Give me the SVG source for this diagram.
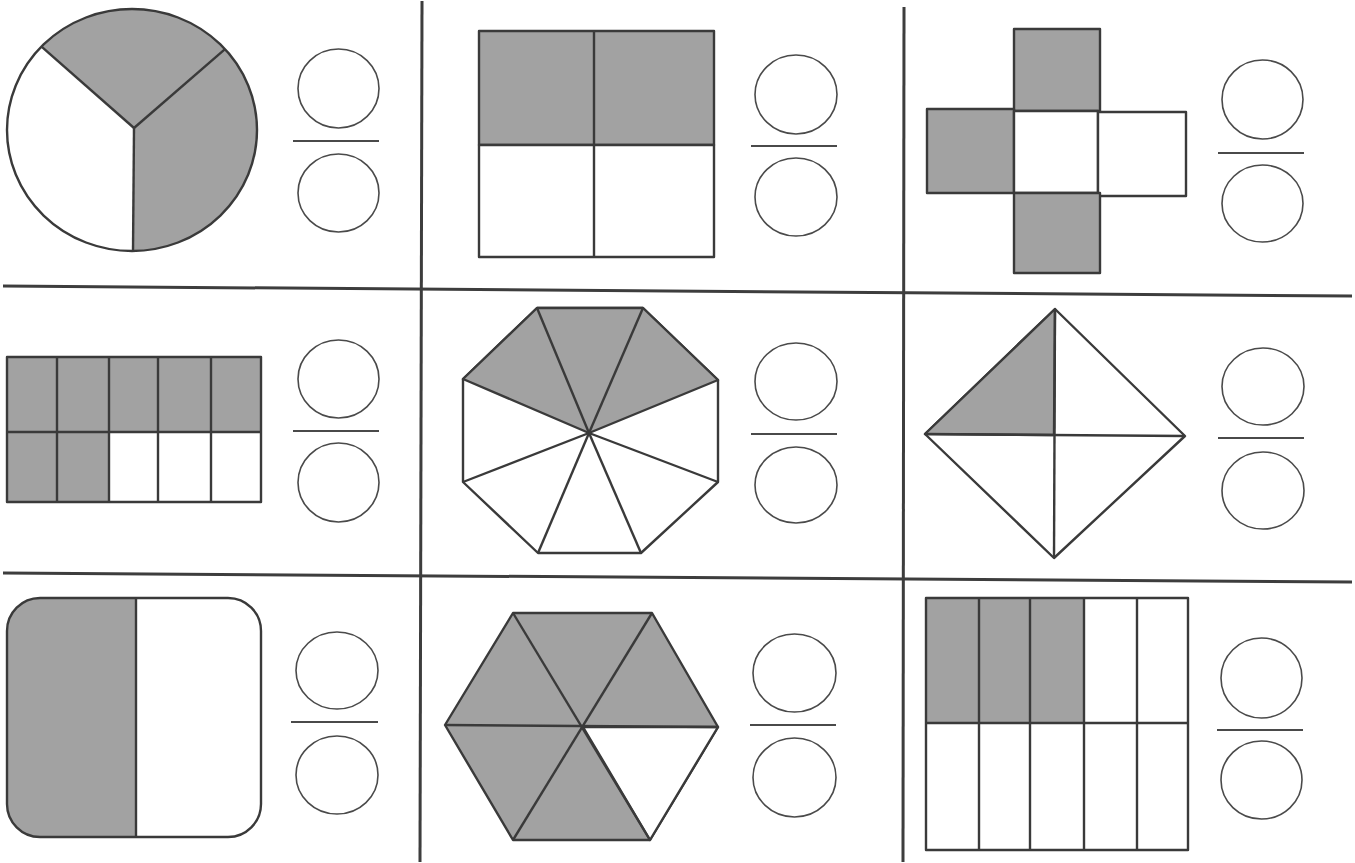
<svg xmlns="http://www.w3.org/2000/svg" width="1355" height="863" viewBox="0 0 1355 863">
<style>
.g{fill:#a2a2a2}
.w{fill:#fff}
.s{stroke:#3a3a3a;stroke-width:2.4;stroke-linejoin:round}
.grid{stroke:#3d3d3d;stroke-width:3;fill:none}
.fc{fill:none;stroke:#4a4a4a;stroke-width:1.6}
.fl{stroke:#4a4a4a;stroke-width:2}
</style>
<rect width="1355" height="863" fill="#fff"/>
<g id="grid">
<line class="grid" x1="422" y1="1" x2="420" y2="862"/>
<line class="grid" x1="904" y1="7" x2="903" y2="862"/>
<line class="grid" x1="3" y1="286" x2="1352" y2="296"/>
<line class="grid" x1="3" y1="573" x2="1352" y2="582"/>
</g>
<g id="cell1">
<ellipse cx="132" cy="130" rx="125" ry="121" class="w"/>
<path d="M134,128 L41.5,46.6 A125,121 0 1 1 133,251 Z" class="g"/>
<ellipse cx="132" cy="130" rx="125" ry="121" fill="none" class="s"/>
<g class="s">
<line x1="134" y1="128" x2="41.5" y2="46.6"/>
<line x1="134" y1="128" x2="225" y2="49.2"/>
<line x1="134" y1="128" x2="133" y2="251"/>
</g>
<g class="fc"><ellipse cx="338.5" cy="88.5" rx="40.5" ry="39.5"/><ellipse cx="338.5" cy="193" rx="40.5" ry="39"/></g>
<line class="fl" x1="293" y1="141" x2="379" y2="141"/>
</g>
<g id="cell2">
<rect x="479" y="31" width="235" height="114" class="g s"/>
<rect x="479" y="145" width="235" height="112" class="w s"/>
<line class="s" x1="594" y1="31" x2="594" y2="257"/>
<g class="fc"><ellipse cx="796" cy="94.5" rx="41" ry="39.5"/><ellipse cx="796" cy="197" rx="41" ry="39"/></g>
<line class="fl" x1="751" y1="146" x2="837" y2="146"/>
</g>
<g id="cell3">
<rect x="1014" y="29" width="86" height="82" class="g s"/>
<rect x="927" y="109" width="87" height="84" class="g s"/>
<rect x="1014" y="111" width="84" height="82" class="w s"/>
<rect x="1098" y="112" width="88" height="84" class="w s"/>
<rect x="1014" y="193" width="86" height="80" class="g s"/>
<g class="fc"><ellipse cx="1262.5" cy="99.5" rx="40.5" ry="39.5"/><ellipse cx="1262.5" cy="203.5" rx="40.5" ry="38.5"/></g>
<line class="fl" x1="1218" y1="153" x2="1304" y2="153"/>
</g>
<g id="cell4">
<rect x="7" y="357" width="254" height="75" class="g"/>
<rect x="7" y="432" width="102" height="70" class="g"/>
<rect x="109" y="432" width="152" height="70" class="w"/>
<g class="s" fill="none">
<rect x="7" y="357" width="254" height="145"/>
<line x1="7" y1="432" x2="261" y2="432"/>
<line x1="57" y1="357" x2="57" y2="502"/>
<line x1="109" y1="357" x2="109" y2="502"/>
<line x1="158" y1="357" x2="158" y2="502"/>
<line x1="211" y1="357" x2="211" y2="502"/>
</g>
<g class="fc"><ellipse cx="338.5" cy="379" rx="40.5" ry="39"/><ellipse cx="338.5" cy="482.5" rx="40.5" ry="39.5"/></g>
<line class="fl" x1="293" y1="431" x2="379" y2="431"/>
</g>
<g id="cell5">
<polygon points="537,308 643,308 718,380 718,482 641,553 538,553 463,482 463,379" class="w s"/>
<polygon points="463,379 537,308 643,308 718,380 589,433" class="g s"/>
<g class="s">
<line x1="589" y1="433" x2="537" y2="308"/>
<line x1="589" y1="433" x2="643" y2="308"/>
<line x1="589" y1="433" x2="463" y2="482"/>
<line x1="589" y1="433" x2="718" y2="482"/>
<line x1="589" y1="433" x2="538" y2="553"/>
<line x1="589" y1="433" x2="641" y2="553"/>
</g>
<g class="fc"><ellipse cx="796" cy="381.5" rx="41" ry="38.5"/><ellipse cx="796" cy="485" rx="41" ry="38"/></g>
<line class="fl" x1="751" y1="434" x2="837" y2="434"/>
</g>
<g id="cell6">
<polygon points="1055,309 1185,436 1054,558 925,434" class="w s"/>
<polygon points="1055,309 1054,435 925,434" class="g s"/>
<g class="s">
<line x1="925" y1="434" x2="1185" y2="436"/>
<line x1="1055" y1="309" x2="1054" y2="558"/>
</g>
<g class="fc"><ellipse cx="1263" cy="386.5" rx="41" ry="38.5"/><ellipse cx="1263" cy="490.5" rx="41" ry="38.5"/></g>
<line class="fl" x1="1218" y1="438" x2="1304" y2="438"/>
</g>
<g id="cell7">
<path d="M136,598 L40,598 A33,33 0 0 0 7,631 L7,804 A33,33 0 0 0 40,837 L136,837 Z" class="g"/>
<rect x="7" y="598" width="254" height="239" rx="33" ry="33" fill="none" class="s"/>
<line class="s" x1="136" y1="598" x2="136" y2="837"/>
<g class="fc"><ellipse cx="337" cy="670.5" rx="41" ry="38.5"/><ellipse cx="337" cy="775" rx="41" ry="39"/></g>
<line class="fl" x1="291" y1="722" x2="378" y2="722"/>
</g>
<g id="cell8">
<polygon points="513,613 652,613 718,727 650,840 513,840 445,725" class="g s"/>
<polygon points="583,727 718,727 650,840" class="w s"/>
<g class="s">
<line x1="445" y1="725" x2="718" y2="727"/>
<line x1="513" y1="613" x2="650" y2="840"/>
<line x1="652" y1="613" x2="513" y2="840"/>
</g>
<g class="fc"><ellipse cx="794.5" cy="673" rx="41.5" ry="39"/><ellipse cx="794.5" cy="777.5" rx="41.5" ry="39.5"/></g>
<line class="fl" x1="750" y1="725" x2="836" y2="725"/>
</g>
<g id="cell9">
<rect x="926" y="598" width="158" height="125" class="g"/>
<g class="s" fill="none">
<rect x="926" y="598" width="262" height="252"/>
<line x1="926" y1="723" x2="1188" y2="723"/>
<line x1="979" y1="598" x2="979" y2="850"/>
<line x1="1030" y1="598" x2="1030" y2="850"/>
<line x1="1084" y1="598" x2="1084" y2="850"/>
<line x1="1137" y1="598" x2="1137" y2="850"/>
</g>
<g class="fc"><ellipse cx="1261.5" cy="678" rx="40.5" ry="40"/><ellipse cx="1261.5" cy="780" rx="40.5" ry="39"/></g>
<line class="fl" x1="1217" y1="730" x2="1303" y2="730"/>
</g>
</svg>
